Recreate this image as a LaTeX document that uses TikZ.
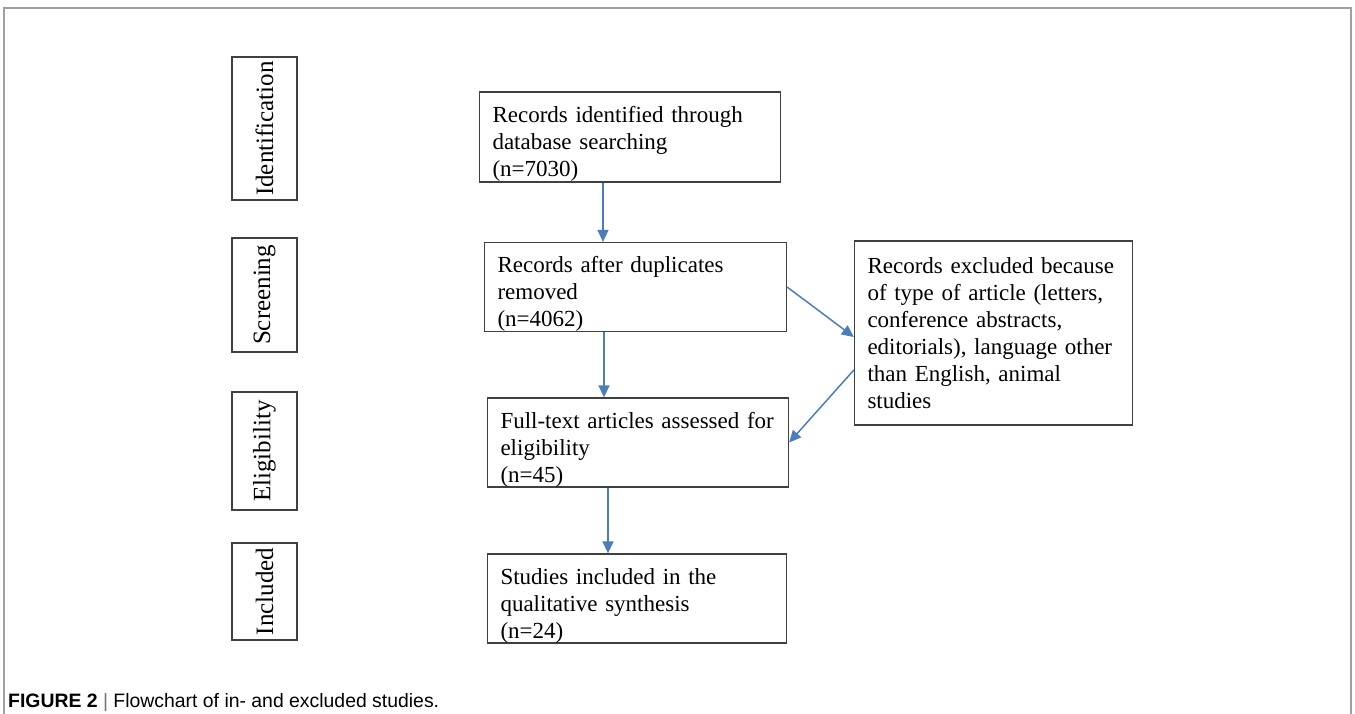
\documentclass[tikz,border=0pt]{standalone}
\usepackage{fontspec}
\setmainfont{Liberation Serif}
\setsansfont{Liberation Sans}
\usetikzlibrary{arrows.meta}
\definecolor{flowblue}{RGB}{74,126,187}
\definecolor{framegray}{RGB}{160,160,160}
\newcommand{\boxfont}{\fontsize{23}{27}\selectfont}
\newcommand{\stagefont}{\fontsize{25}{29}\selectfont}

\begin{document}
\begin{tikzpicture}[x=1pt, y=-1pt,
    stage/.style={draw=black!75, line width=1.3pt, rotate=90, minimum height=65pt, inner sep=0pt, font=\stagefont},
    record/.style={draw=black!75, line width=1.3pt, align=left, inner xsep=13pt, inner ysep=0pt, font=\boxfont},
    lowered/.style={execute at begin node={\rule{0pt}{30pt}}},
    flow/.style={draw=flowblue, line width=1.5pt, -{Triangle[length=12pt, width=11pt]}}]
    \useasboundingbox (0,0) rectangle (1355,714);
    \fill[white] (0,0) rectangle (1355,714);
    % Frame (open at the bottom)
    \draw[framegray, line width=1.2pt] (4,714) -- (4,8) -- (1351,8) -- (1351,714);

    % LEFT: stage labels
    \node[stage, minimum width=143pt] (ident) at (264.5,128.5) {Identification};
    \node[stage, minimum width=114pt] (screen) at (264.5,295) {Screening};
    \node[stage, minimum width=118pt] (elig) at (264.5,451) {Eligibility};
    \node[stage, minimum width=97pt] (incl) at (264.5,591.5) {Included};

    % MIDDLE: records
    \node[record, lowered, text width=275pt, minimum height=90pt] (found) at (630,137)
        {Records identified through\\database searching\\(n=7030)};
    \node[record, lowered, text width=276pt, minimum height=88pt] (dedup) at (635.5,287)
        {Records after duplicates\\removed\\(n=4062)};
    \node[record, lowered, text width=275pt, minimum height=89pt] (full) at (638,442.5)
        {Full-text articles assessed~for\\eligibility\\(n=45)};
    \node[record, lowered, text width=273pt, minimum height=89pt] (synth) at (637,598.5)
        {Studies included in the\\qualitative synthesis\\(n=24)};

    % RIGHT: exclusions
    \node[record, text width=252pt, minimum height=184pt] (excl) at (993.5,333)
        {Records excluded because\\of type of article (letters,\\conference abstracts,\\editorials), language other\\than English, animal\\studies};

    % Arrows
    \draw[flow] ([xshift=-27pt]found.south) -- ([xshift=-27pt]found.south |- dedup.north);
    \draw[flow] ([xshift=-31.5pt]dedup.south) -- ([xshift=-31.5pt]dedup.south |- full.north);
    \draw[flow] ([xshift=-30pt]full.south) -- ([xshift=-30pt]full.south |- synth.north);
    \draw[flow] (dedup.east) -- ([yshift=-4pt]excl.west);
    \draw[flow] ([yshift=-37pt]excl.west) -- (full.east);

    % Caption
    \node[anchor=base west, font=\sffamily\fontsize{19.4}{23}\selectfont, inner sep=0pt] (caption) at (8,707)
        {\textbf{FIGURE 2} {\color{black!55}|} Flowchart of in- and excluded studies.};
\end{tikzpicture}
\end{document}
